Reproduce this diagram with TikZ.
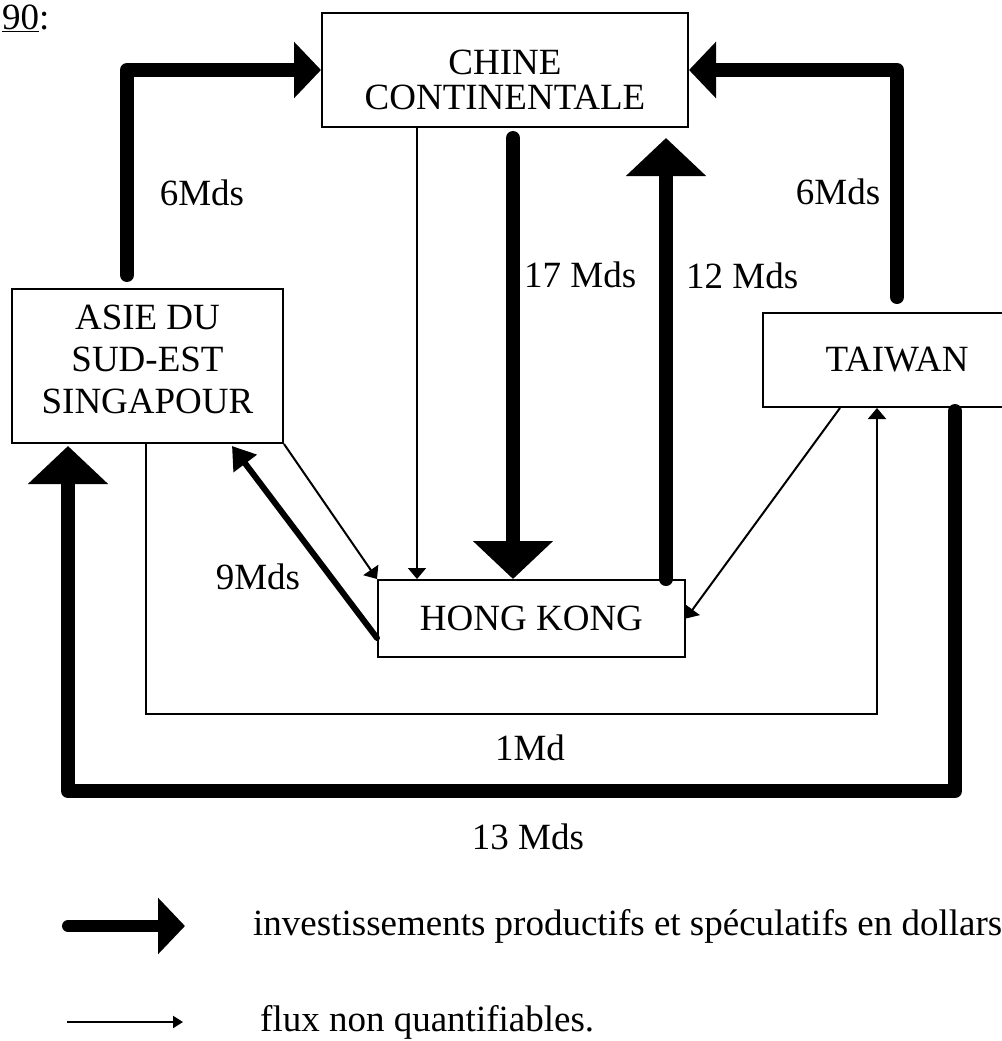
\documentclass[tikz,border=0pt]{standalone}
\usepackage{fontspec}
\setmainfont{Liberation Serif}
\usetikzlibrary{arrows.meta, positioning, calc}
\tikzset{
    >=Stealth,
    % Boites
    pays/.style={rectangle, draw, line width=2pt, align=center, inner sep=0pt},
    % Fleches
    invest/.style={line width=14pt, line cap=round, line join=round, -{Triangle[length=38pt, width=78pt]}},
    investPetit/.style={invest, -{Triangle[length=27pt, width=55pt]}},
    investMoyen/.style={line width=6pt, line cap=round, -{Triangle[length=22pt, width=28pt]}},
    flux/.style={line width=2pt, -{Triangle[length=11pt, width=18pt]}},
    % Etiquettes
    lbl/.style={inner sep=0pt, align=center}
}
\begin{document}
\begin{tikzpicture}[x=1pt, y=-1pt, font=\fontsize{37}{42}\selectfont]
\useasboundingbox (0,0) rectangle (1001,1041);

\node[lbl, anchor=west] (titre) at (2,18) {\underline{90}:};

\node[pays, minimum width=366pt, minimum height=114pt] (chine) at (505,70) {\rule{0pt}{44pt}CHINE\\[-7pt]CONTINENTALE};
\node[pays, minimum width=271pt, minimum height=154pt] (asie) at (147.5,366) {ASIE DU\\SUD-EST\\SINGAPOUR\rule[-14pt]{0pt}{14pt}};
\node[pays, minimum width=268pt, minimum height=94pt] (taiwan) at (897,360) {TAIWAN};
\node[pays, minimum width=307pt, minimum height=77pt] (hk) at (531.5,618.5) {HONG KONG};

% investissements
\draw[investPetit] ([xshift=-20.5pt, yshift=13pt]asie.north) |- (chine.west);
\draw[investPetit] ([yshift=15pt]taiwan.north) |- (chine.east);
\draw[invest] ([xshift=8pt, yshift=-10pt]chine.south) -- ([xshift=-18.5pt]hk.north);
\draw[invest] ([xshift=134.5pt]hk.north) -- ([xshift=161pt, yshift=-10pt]chine.south);
\draw[investMoyen] ([yshift=-19.5pt]hk.west) -- ([xshift=84.5pt, yshift=-2pt]asie.south);
\draw[invest] ([xshift=58pt, yshift=-3pt]taiwan.south) -- ++(0,380) -| ([xshift=-79.5pt, yshift=-2pt]asie.south);

% flux
\draw[flux] ([xshift=-88pt]chine.south) -- ([xshift=-114.5pt]hk.north);
\draw[flux] (asie.south east) -- (hk.north west);
\draw[flux] ([xshift=-57pt]taiwan.south) -- (hk.east);
\draw[flux] ([xshift=-1.5pt]asie.south) -- ++(0,270) -| ([xshift=-20pt]taiwan.south);

\node[lbl] (l6a) at (202,193) {6Mds};
\node[lbl] (l6b) at (838,192) {6Mds};
\node[lbl, anchor=west] (l17) at (524,275) {17 Mds};
\node[lbl, anchor=west] (l12) at (686,276) {12 Mds};
\node[lbl] (l9) at (258,577) {9Mds};
\node[lbl] (l1) at (530,748) {1Md};
\node[lbl] (l13) at (528,837) {13 Mds};

% legende
\coordinate (lgA) at (68,926);
\coordinate (lgB) at (185,926);
\coordinate (lgC) at (67,1022);
\coordinate (lgD) at (183,1022);
\draw[investPetit, line width=12pt] (lgA) -- (lgB);
\draw[flux, -{Triangle[length=10pt, width=12pt]}] (lgC) -- (lgD);
\node[lbl, right=68pt of lgB] (lgTexte1) {investissements productifs et spéculatifs en dollars};
\node[lbl, right=77pt of lgD] (lgTexte2) {flux non quantifiables.};

\end{tikzpicture}
\end{document}
